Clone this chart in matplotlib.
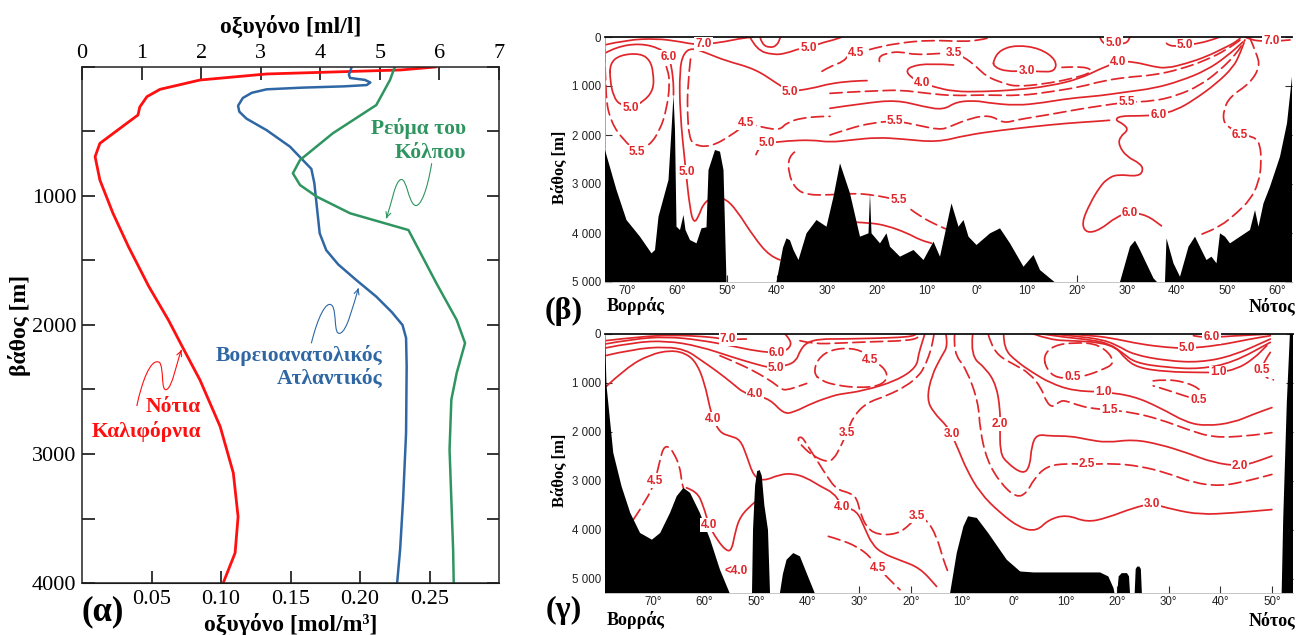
import matplotlib
matplotlib.use("Agg")
import matplotlib.pyplot as plt
from matplotlib.path import Path
from matplotlib.patches import PathPatch
from matplotlib import font_manager

# ---------------- panel (α): oxygen profiles (x in ml/l, depth in m) ----------------
cal_o2 = [5.93, 5.35, 3.10, 1.98, 1.31, 1.09, 0.97, 0.94, 0.75, 0.30, 0.22, 0.30, 0.52, 0.78, 1.12,
          1.45, 1.72, 1.98, 2.32, 2.54, 2.62, 2.57, 2.37]
cal_depth = [0, 23, 54, 101, 173, 230, 310, 372, 437, 592, 695, 876, 1134, 1393, 1700,
             1961, 2200, 2426, 2788, 3147, 3486, 3767, 4000]

nea_o2 = [4.52, 4.48, 4.50, 4.75, 4.84, 4.78, 4.40, 3.70, 3.10, 2.85, 2.70, 2.62, 2.64, 2.76, 3.10,
          3.49, 3.85, 3.90, 3.93, 3.99, 4.10, 4.30, 4.60, 4.94, 5.20, 5.38, 5.44, 5.45, 5.44, 5.39,
          5.34, 5.29]
nea_depth = [10, 60, 85, 100, 120, 140, 150, 160, 173, 200, 240, 300, 346, 400, 490,
             617, 790, 900, 1030, 1289, 1420, 1530, 1650, 1780, 1900, 2000, 2100, 2320, 2837, 3354,
             3742, 4000]

gs_o2 = [5.25, 5.17, 4.94, 4.21, 3.66, 3.54, 3.66, 3.94, 4.50, 5.48, 5.95, 6.29, 6.43, 6.29, 6.20,
         6.17, 6.20, 6.23, 6.24]
gs_depth = [0, 101, 295, 514, 721, 824, 915, 1005, 1134, 1264, 1677, 1961, 2140, 2372, 2579,
            2966, 3354, 3742, 4000]

mlx_ticks = [0, 1, 2, 3, 4, 5, 6, 7]
mol_ticks = [0.05, 0.10, 0.15, 0.20, 0.25]
mol_labels = ["0.05", "0.10", "0.15", "0.20", "0.25"]
depth_ticks_a = [0, 500, 1000, 1500, 2000, 2500, 3000, 3500, 4000]
depth_labels_a = ["", "", "1000", "", "2000", "", "3000", "", "4000"]

# ---------------- panel (β): section, x = latitude (N negative, S positive), depth m ----------------
b_bathy_1 = [(-74.4, 2306), (-72.1, 3122), (-70.1, 3735), (-67.4, 4075), (-65.1, 4415), (-64.4, 4347),
             (-63.7, 3667), (-61.7, 2917), (-61.1, 1898), (-60.7, 1184), (-60.4, 1898), (-60.1, 3871),
             (-59.4, 3939), (-58.7, 3633), (-58.3, 3939), (-57.4, 4143), (-56.1, 4211), (-55.1, 3905),
             (-54.1, 3884), (-53.7, 2715), (-52.4, 2306), (-51.4, 2340), (-50.7, 2715), (-50.1, 5000)]
b_bathy_2 = [(-40.1, 5000), (-38.8, 4300), (-38.1, 4109), (-37.4, 4150), (-36.7, 4347), (-35.7, 4551),
             (-34.1, 4007), (-32.1, 3735), (-30.1, 3871), (-28.7, 3259), (-27.4, 2578), (-25.4, 3190),
             (-23.4, 4075), (-21.7, 4007), (-21.4, 3190), (-21.1, 4007), (-19.4, 4211), (-18.1, 4007),
             (-17.4, 4279), (-15.4, 4483), (-12.7, 4347), (-10.7, 4551), (-8.7, 4177), (-7.4, 4483),
             (-5.1, 3395), (-3.7, 3871), (-2.7, 3735), (-1.7, 4075), (-0.1, 4245), (2.6, 4007),
             (4.6, 3905), (6.6, 4211), (9.3, 4688), (11.3, 4449), (12.6, 4756), (14.6, 4925), (15.5, 5000)]
b_bathy_3 = [(28.6, 5000), (30.6, 4279), (31.6, 4157), (32.6, 4347), (35.3, 4925), (36.0, 5000)]
b_bathy_4 = [(37.6, 5000), (37.9, 4109), (39.3, 4619), (40.6, 4892), (42.3, 4279), (43.6, 4075),
             (44.9, 4347), (45.9, 4551), (46.9, 4483), (47.9, 4619), (48.6, 4007), (49.6, 4075),
             (50.6, 4211), (54.6, 3939), (55.6, 3531), (56.3, 3871), (57.3, 3395), (58.6, 3055),
             (60.6, 2443), (62.0, 1762), (63.0, 810), (63.5, 810)]

b_70_w = [(-74.4, 160), (-70.1, 60), (-64.1, 30), (-59.4, 95), (-56.1, 160), (-51.4, 115), (-47.4, 30), (-44.7, 0)]
b_70_e = [(53.6, 0), (54.9, 60), (57.0, 85), (60.0, 82), (62.6, 60)]
b_60_w = [(-74.4, 330), (-72.1, 200), (-67.4, 130), (-63.4, 230), (-61.7, 400), (-61.1, 600), (-60.7, 940), (-60.7, 1180)]
b_50_loop = [(-73.4, 537), (-71.4, 367), (-67.4, 333), (-65.4, 469), (-64.7, 741), (-64.7, 1081), (-66.7, 1319),
             (-69.1, 1435), (-71.4, 1387), (-72.7, 1217), (-73.4, 877), (-73.4, 537)]
b_55_w = [(-74.4, 265), (-74.4, 1217), (-73.1, 1761), (-70.7, 2101), (-68.1, 2340), (-65.4, 2203), (-63.4, 1897),
          (-62.1, 1489), (-61.4, 945), (-61.9, 650), (-62.8, 450)]
b_50_u = [(-39.4, 4549), (-41.4, 4481), (-44.7, 4073), (-48.1, 3529), (-50.4, 3291), (-52.7, 3257), (-54.7, 3393),
          (-55.7, 3665), (-56.6, 3801), (-57.4, 3529), (-58.4, 2577), (-59.4, 1557), (-59.5, 673), (-58.7, 330),
          (-57.0, 220), (-54.0, 330), (-50.4, 480), (-44.4, 650), (-40.0, 950), (-37.4, 1115), (-33.0, 1050),
          (-29.4, 950), (-25.0, 900), (-22.0, 890)]
b_45_w = [(-57.3, 450), (-57.9, 1000), (-57.9, 1600), (-57.6, 2000), (-56.8, 2200), (-53.4, 2250), (-49.0, 2000),
          (-46.1, 1761), (-42.1, 1860), (-39.4, 1897), (-38.1, 1750), (-35.0, 1650), (-31.0, 1620), (-29.4, 1620)]
b_40_c = [(-4.7, 571), (-9.4, 537), (-13.4, 600), (-14.2, 720), (-12.5, 870), (-10.9, 945), (-8.7, 1013),
          (-4.7, 1115), (1.3, 1115), (7.9, 1080), (14.6, 1000), (20.6, 850), (24.6, 650), (28.3, 503),
          (31.3, 503), (35.3, 605), (37.9, 640), (41.9, 540), (45.9, 400), (49.3, 230), (51.3, 130), (52.6, 30)]
b_45_c = [(-29.4, 1150), (-25.0, 1120), (-20.0, 1100), (-15.4, 1080), (-10.0, 1150), (-4.7, 1200), (1.3, 1180),
          (8.6, 1200), (14.6, 1120), (20.6, 1020), (25.0, 900), (29.9, 820), (35.3, 780), (40.6, 660),
          (45.9, 470), (49.9, 260), (52.8, 50)]
b_50_c = [(-29.4, 1455), (-22.7, 1353), (-16.1, 1285), (-10.7, 1421), (-6.7, 1489), (-4.1, 1319), (-0.1, 1300),
          (1.9, 1340), (7.9, 1400), (13.3, 1340), (18.6, 1250), (24.6, 1200), (29.9, 1120), (35.3, 1050),
          (40.6, 900), (45.9, 680), (49.9, 400), (53.2, 100)]
b_55_c = [(-29.4, 2000), (-25.4, 1863), (-21.4, 1761), (-16.4, 1707), (-12.1, 1795), (-7.4, 1897), (-5.4, 1829),
          (-1.4, 1659), (2.6, 1591), (5.3, 1761), (7.9, 1693), (11.9, 1625), (15.9, 1557), (20.0, 1480),
          (25.0, 1400), (29.9, 1330), (35.3, 1310), (39.9, 1200), (44.6, 990), (48.6, 680), (51.9, 340), (53.6, 60)]
b_50_low = [(-44.2, 2400), (-43.6, 2250), (-42.1, 2169), (-38.0, 2120), (-33.0, 2100), (-29.4, 2150), (-25.0, 2100),
            (-20.0, 2050), (-15.0, 2080), (-8.0, 2150), (-2.0, 2000), (5.0, 1900), (12.0, 1820), (18.0, 1760),
            (24.0, 1720), (26.5, 1700)]
b_60_e = [(53.4, 120), (52.6, 340), (51.3, 610), (47.9, 950), (43.3, 1290), (39.9, 1489), (36.3, 1591),
          (32.6, 1611), (28.6, 1611), (27.6, 1693), (29.3, 1775), (30.3, 1897), (28.6, 2033), (28.3, 2203),
          (29.9, 2441), (32.6, 2577), (33.3, 2713), (32.3, 2849), (28.0, 2800), (26.0, 2900), (24.6, 3053),
          (22.6, 3393), (20.9, 3801), (21.9, 4005), (24.6, 3937), (27.9, 3665), (30.6, 3583), (33.9, 3631),
          (36.9, 3855)]
b_65_e = [(54.5, 0), (55.9, 333), (56.6, 605), (54.6, 945), (50.6, 1217), (49.3, 1489), (49.3, 1761),
          (51.3, 1897), (52.6, 2000), (55.3, 2033), (56.6, 2169), (56.9, 2577), (56.3, 2985), (54.6, 3325),
          (51.9, 3597), (48.6, 3869), (44.6, 4039)]
b_55_deep = [(-36.5, 2350), (-37.7, 2441), (-37.7, 2781), (-36.4, 3087), (-34.1, 3223), (-29.4, 3223),
             (-24.7, 3189), (-20.7, 3223), (-15.7, 3325), (-11.4, 3665), (-7.4, 3869), (-5.7, 3937)]
b_deep_s = [(-24.5, 3780), (-21.5, 3790), (-18.0, 3850), (-14.0, 4000), (-11.4, 4141), (-9.1, 4209)]
b_50_top = [(-45.4, 0), (-44.1, 265), (-40.7, 367), (-38.1, 333), (-35.4, 231), (-33.7, 231), (-31.4, 129),
            (-28.7, 61), (-27.0, 0)]
b_inner_top = [(-43.4, 0), (-43.0, 150), (-41.5, 220), (-40.0, 180), (-39.3, 0)]
b_45_top = [(-31.0, 700), (-29.4, 600), (-26.7, 503), (-25.7, 367), (-24.1, 333), (-20.7, 231), (-16.1, 129),
            (-9.4, 61), (-2.7, 95), (0.6, 61), (3.0, 0)]
b_35_top = [(-19.5, 500), (-19.8, 400), (-17.5, 320), (-15.4, 300), (-12.1, 367), (-7.4, 333), (-4.7, 333),
            (-2.7, 401), (-0.1, 605), (1.9, 809), (5.3, 945), (7.9, 1013), (13.3, 960), (18.6, 860),
            (22.6, 741), (22.9, 659), (20.9, 605), (17.0, 620)]
b_30_loop = [(3.3, 469), (4.6, 265), (7.9, 163), (12.6, 231), (15.9, 469), (15.6, 707), (12.6, 707), (9.9, 687),
             (5.9, 707), (3.3, 605), (3.3, 469)]
b_50_ne = [(24.6, 0), (25.0, 150), (27.3, 130), (29.9, 140), (30.6, 0)]
b_50_e = [(37.9, 129), (38.6, 197), (41.6, 163), (44.6, 129), (47.9, 27), (48.5, 0)]

# label positions (lat, depth, text)
b_labels = [(-54.7, 140, "7.0"), (58.9, 82, "7.0"), (-61.7, 400, "6.0"), (-69.3, 1440, "5.0"),
            (-68.1, 2340, "5.5"), (-58.1, 2747, "5.0"), (-37.4, 1115, "5.0"), (-46.1, 1761, "4.5"),
            (-42.1, 2169, "5.0"), (-10.9, 945, "4.0"), (28.3, 503, "4.0"), (-16.4, 1707, "5.5"),
            (29.9, 1330, "5.5"), (36.3, 1591, "6.0"), (30.6, 3583, "6.0"), (52.6, 2000, "6.5"),
            (-15.7, 3325, "5.5"), (-33.7, 231, "5.0"), (-24.1, 333, "4.5"), (-4.7, 333, "3.5"),
            (9.9, 690, "3.0"), (27.3, 125, "5.0"), (41.6, 163, "5.0")]

b_xticks = [-70, -60, -50, -40, -30, -20, -10, 0, 10, 20, 30, 40, 50, 60]
b_yticks = [0, 1000, 2000, 3000, 4000, 5000]
b_ylabels = ["0", "1 000", "2 000", "3 000", "4 000", "5 000"]

# ---------------- panel (γ) ----------------
g_bathy_1 = [(-79.3, 35), (-79.0, 1059), (-77.7, 2425), (-76.1, 3108), (-74.4, 3655), (-72.5, 4064), (-70.2, 4201),
             (-68.6, 4064), (-66.7, 3655), (-65.4, 3313), (-64.1, 3142), (-62.8, 3245), (-60.9, 3655),
             (-58.9, 4201), (-57.0, 4816), (-55.1, 5300)]
g_bathy_2 = [(-50.8, 5300), (-50.6, 4000), (-50.2, 3100), (-49.8, 2800), (-49.3, 2780), (-48.9, 2900),
             (-48.4, 3500), (-47.7, 4000), (-47.3, 5300)]
g_bathy_3 = [(-45.4, 5300), (-44.8, 4900), (-44.1, 4611), (-42.8, 4474), (-41.5, 4542), (-40.2, 4884), (-38.6, 5300)]
g_bathy_4 = [(-12.4, 5300), (-11.1, 4474), (-9.8, 3928), (-8.9, 3723), (-7.2, 3757), (-5.0, 4064), (-1.4, 4611),
             (1.2, 4850), (3.8, 4870), (16.7, 4870), (18.3, 4952), (19.3, 5191), (19.5, 5300)]
g_bathy_5 = [(20.0, 5300), (20.3, 4950), (20.9, 4884), (21.9, 4884), (22.3, 4950), (22.5, 5300)]
g_bathy_6 = [(23.4, 5300), (23.6, 4800), (23.9, 4750), (24.3, 4750), (24.6, 4800), (24.8, 5300)]
g_bathy_7 = [(51.9, 5300), (52.2, 3791), (52.9, 1400), (53.5, 0), (54.5, 0)]

g_70 = [(-79.3, 137), (-72.5, 55), (-66.1, 20), (-59.6, 55), (-57.1, 90), (-55.7, 110), (-53.1, 105), (-51.9, 102)]
g_60 = [(-79.3, 205), (-73.8, 102), (-67.4, 55), (-61.0, 120), (-54.4, 250), (-49.9, 350), (-46.0, 385),
        (-44.1, 341), (-43.1, 205), (-43.8, 68), (-44.4, 0)]
g_50 = [(-79.3, 287), (-73.8, 171), (-67.4, 137), (-61.0, 250), (-54.4, 480), (-49.9, 620), (-47.3, 690),
        (-44.1, 649), (-42.2, 546), (-41.5, 341), (-40.2, 171), (-37.6, 102), (-33.8, 102), (-28.0, 90),
        (-22.0, 70), (-19.5, 40), (-19.0, 0)]
g_40a = [(-79.3, 444), (-73.8, 307), (-67.4, 259), (-63.5, 330), (-61.0, 512), (-57.7, 751), (-54.4, 1024),
         (-52.5, 1195), (-50.6, 1243), (-47.3, 1332), (-44.7, 1625), (-42.8, 1605), (-38.9, 1400), (-35.1, 1264),
         (-33.8, 1229), (-29.2, 1161), (-22.8, 956), (-18.9, 683), (-18.5, 410), (-17.8, 171), (-17.3, 0)]
g_40b = [(-79.3, 1093), (-75.1, 683), (-70.6, 420), (-66.5, 330), (-63.5, 400), (-61.5, 600), (-60.0, 1000),
         (-58.9, 1537), (-58.3, 1742), (-57.0, 2015), (-55.1, 2084), (-53.1, 2152), (-51.8, 2493), (-50.5, 2903),
         (-48.6, 3006), (-45.4, 2869), (-42.8, 2849), (-40.2, 2937), (-37.6, 3108), (-35.0, 3245), (-33.7, 3450),
         (-33.4, 3532), (-30.5, 3600), (-29.0, 3950), (-27.5, 4300), (-25.5, 4480), (-22.1, 4620), (-18.2, 4780),
         (-15.0, 5157)]
g_45_loop = [(-38.9, 800), (-38.0, 500), (-35.5, 320), (-31.5, 280), (-28.5, 400), (-27.9, 526), (-25.5, 650),
             (-24.3, 880), (-26.0, 1060), (-30.0, 1100), (-34.3, 1050), (-37.3, 960), (-38.9, 800)]
g_45_band = [(-57.0, 444), (-53.1, 615), (-49.3, 820), (-46.7, 990), (-45.1, 1127), (-44.1, 1147), (-41.5, 1059),
             (-40.2, 1010)]
g_45_top = [(-41.5, 137), (-38.9, 205), (-33.7, 185), (-27.3, 157), (-20.8, 137), (-18.5, 80), (-18.2, 0)]
g_35 = [(-15.5, 0), (-15.8, 200), (-16.5, 450), (-17.5, 700), (-18.5, 854), (-20.8, 1059), (-24.7, 1264),
        (-28.5, 1400), (-31.1, 1674), (-32.4, 2015), (-33.7, 2323), (-35.0, 2562), (-36.3, 2616), (-38.9, 2493),
        (-40.8, 2323), (-42.1, 2152), (-41.2, 2084), (-40.2, 2254), (-38.3, 2562), (-36.3, 2903), (-34.4, 3176),
        (-31.8, 3245), (-30.5, 3347), (-29.8, 3650), (-28.6, 3950), (-26.5, 4100), (-22.7, 4090), (-20.2, 3900),
        (-18.9, 3723), (-16.9, 3791), (-15.0, 4132), (-13.7, 4610), (-12.7, 4884)]
g_45_deepL = [(-73.8, 3791), (-71.2, 3381), (-69.6, 3006), (-68.6, 2562), (-68.0, 2323), (-67.0, 2289),
              (-66.0, 2425), (-64.8, 2698), (-64.4, 3040), (-64.1, 3142)]
g_40_deepL = [(-63.5, 3142), (-61.5, 3211), (-60.2, 3518), (-59.2, 3893), (-57.6, 4201), (-55.7, 4440),
              (-54.7, 4406), (-54.1, 4064), (-53.1, 3723), (-50.5, 3450), (-49.9, 3416)]
g_45_deepR = [(-36.0, 4133), (-33.7, 4201), (-30.5, 4338), (-27.9, 4543), (-26.3, 4781), (-24.1, 5020), (-22.1, 5225)]
g_30 = [(-13.2, 0), (-12.8, 239), (-14.0, 444), (-16.0, 854), (-16.9, 1332), (-15.6, 1605), (-13.0, 1879),
        (-12.1, 2049), (-10.8, 2357), (-9.2, 2767), (-6.6, 3245), (-2.7, 3655), (1.2, 3962), (4.4, 4030),
        (6.7, 3791), (10.2, 3689), (14.1, 3846), (18.0, 3757), (23.1, 3552), (26.7, 3463), (30.9, 3586),
        (36.1, 3689), (42.5, 3655), (50.0, 3586)]
g_25 = [(-11.5, 0), (-11.8, 376), (-9.2, 717), (-6.9, 1400), (-6.6, 1947), (-5.3, 2562), (-2.7, 3040),
        (0.5, 3347), (2.5, 3245), (3.8, 2971), (6.3, 2698), (10.2, 2644), (14.1, 2664), (19.3, 2644),
        (24.4, 2698), (29.6, 2835), (34.8, 3040), (40.0, 3108), (45.1, 3006), (50.0, 2869)]
g_20 = [(-8.0, 0), (-8.5, 444), (-5.3, 717), (-3.4, 1059), (-2.7, 1537), (-2.7, 1844), (-2.7, 2425),
        (-1.4, 2630), (1.8, 2869), (3.1, 2698), (3.4, 2289), (4.4, 2049), (7.0, 2084), (10.9, 2084),
        (14.1, 2152), (18.0, 2220), (23.1, 2152), (28.3, 2254), (33.5, 2425), (38.7, 2630), (43.8, 2698),
        (46.4, 2630), (50.0, 2493)]
g_15 = [(-5.0, 0), (-4.6, 171), (-3.0, 450), (0.0, 620), (3.0, 800), (5.3, 1100), (6.3, 1400), (7.6, 1503),
        (8.9, 1366), (10.2, 1366), (12.8, 1469), (15.4, 1523), (18.5, 1551), (23.1, 1605), (28.3, 1742),
        (33.5, 1947), (38.7, 2118), (45.1, 2084), (50.0, 2015)]
g_10 = [(-2.0, 0), (-2.0, 300), (0.5, 560), (3.5, 780), (7.0, 1000), (11.5, 1161), (17.3, 1182), (23.1, 1264),
        (28.3, 1503), (33.5, 1810), (37.4, 1879), (42.5, 1810), (46.4, 1639), (50.0, 1503)]
g_05_loop = [(5.7, 444), (7.6, 239), (11.5, 171), (16.7, 205), (19.9, 581), (16.7, 752), (12.8, 888),
             (8.3, 909), (6.3, 717), (5.7, 444)]
g_05_small = [(27.0, 957), (29.6, 922), (33.5, 991), (36.1, 1127), (36.7, 1250), (35.8, 1346), (33.5, 1278),
              (29.6, 1141), (27.0, 1059)]
g_05_right = [(49.7, 376), (48.5, 560), (48.0, 731), (48.7, 888), (50.3, 936)]
g_60e = [(34.8, 35), (36.0, 60), (38.3, 69), (42.5, 40), (49.7, 0)]
g_50e = [(10.0, 0), (15.4, 30), (19.9, 103), (24.4, 205), (29.6, 274), (33.5, 294), (39.3, 239), (45.8, 103), (49.7, 35)]
g_b1 = [(7.5, 0), (12.0, 45), (17.0, 110), (20.0, 230), (23.1, 420), (29.6, 547), (36.1, 581), (42.5, 444), (49.7, 103)]
g_b2 = [(5.5, 0), (10.0, 70), (15.0, 120), (18.5, 200), (21.0, 380), (23.5, 590), (29.6, 683), (36.1, 717),
        (42.5, 581), (49.7, 171)]
g_10e = [(3.8, 0), (7.0, 120), (11.5, 140), (16.7, 170), (20.0, 290), (21.5, 500), (24.0, 690), (29.6, 772),
         (36.1, 786), (39.6, 786), (43.2, 717), (46.4, 512), (49.0, 239)]

g_labels = [(-55.5, 110, "7.0"), (-46.0, 385, "6.0"), (-46.2, 690, "5.0"), (-50.2, 1225, "4.0"),
            (-58.3, 1742, "4.0"), (-33.4, 3532, "4.0"), (-27.9, 526, "4.5"), (-32.4, 2015, "3.5"),
            (-18.9, 3723, "3.5"), (-69.6, 3006, "4.5"), (-59.2, 3893, "4.0"), (-53.8, 4850, "<4.0"),
            (-26.3, 4781, "4.5"), (-12.1, 2049, "3.0"), (26.7, 3463, "3.0"), (14.1, 2664, "2.5"),
            (-2.7, 1844, "2.0"), (43.8, 2698, "2.0"), (18.5, 1551, "1.5"), (17.3, 1182, "1.0"),
            (39.6, 786, "1.0"), (11.4, 888, "0.5"), (35.8, 1346, "0.5"), (48.0, 731, "0.5"),
            (38.3, 62, "6.0"), (33.5, 294, "5.0")]

g_xticks = [-70, -60, -50, -40, -30, -20, -10, 0, 10, 20, 30, 40, 50]
g_yticks = [0, 1000, 2000, 3000, 4000, 5000]
g_ylabels = ["0", "1 000", "2 000", "3 000", "4 000", "5 000"]

# ---------------------------------------------------------------------------
W, H = 1296, 635
RED_A = "#ff1010"
BLUE = "#2f67a4"
GREEN = "#2f9560"
ISO = "#e0262b"
SERIF = ["Liberation Serif", "DejaVu Serif"]
_names = {f.name for f in font_manager.fontManager.ttflist}
NARROW = ["Liberation Sans Narrow"] if "Liberation Sans Narrow" in _names else ["Liberation Sans"]
SANS = ["Liberation Sans", "DejaVu Sans"]
TICK_FS = 9.5 if NARROW[0].endswith("Narrow") else 8.3

fig = plt.figure(figsize=(W / 100, H / 100), dpi=100)


def box(x0, y0, x1, y1):
    return [x0 / W, 1 - y1 / H, (x1 - x0) / W, (y1 - y0) / H]


# ============================ panel α ============================
axa = fig.add_axes(box(82, 67, 499, 583))
axa.plot(cal_o2, cal_depth, color=RED_A, lw=2.0, solid_joinstyle="round")
axa.plot(nea_o2, nea_depth, color=BLUE, lw=1.8, solid_joinstyle="round")
axa.plot(gs_o2, gs_depth, color=GREEN, lw=1.8, solid_joinstyle="round")
axa.set_xlim(0, 7)
axa.set_ylim(4000, 0)
axa.xaxis.tick_top()
axa.set_xticks(mlx_ticks)
axa.set_xticklabels([str(v) for v in mlx_ticks], family=SERIF, fontsize=16)
axa.set_yticks(depth_ticks_a)
axa.set_yticklabels(depth_labels_a, family=SERIF, fontsize=16)
axa.tick_params(axis="x", direction="in", length=9, width=1.1, pad=3)
axa.tick_params(axis="y", direction="in", length=9, width=1.1, left=True, right=True, pad=4)
for s in axa.spines.values():
    s.set_linewidth(1.1)
    s.set_color("#222222")
sec = axa.secondary_xaxis("bottom", functions=(lambda v: v * 0.3 / 7, lambda m: m * 7 / 0.3))
sec.set_xticks(mol_ticks)
sec.set_xticklabels(mol_labels, family=SERIF, fontsize=16)
sec.tick_params(direction="in", length=9, width=1.1, pad=5)

fig.text(291 / W, 1 - 27 / H, "οξυγόνο [ml/l]", ha="center", va="center", fontsize=17,
         fontweight="bold", family=SERIF)
fig.text(291 / W, 1 - 625 / H, "οξυγόνο [mol/m³]", ha="center", va="center", fontsize=17,
         fontweight="bold", family=SERIF)
fig.text(20 / W, 1 - 325 / H, "βάθος [m]", ha="center", va="center", rotation=90, fontsize=17,
         fontweight="bold", family=SERIF)
fig.text(103 / W, 1 - 612 / H, "(α)", ha="center", va="center", fontsize=25, fontweight="bold", family=SERIF)

axa.text(6.45, 475, "Ρεύμα του", color=GREEN, ha="right", va="center", fontsize=15.5, fontweight="bold", family=SERIF)
axa.text(6.45, 669, "Κόλπου", color=GREEN, ha="right", va="center", fontsize=15.5, fontweight="bold", family=SERIF)
axa.text(5.04, 2233, "Βορειοανατολικός", color=BLUE, ha="right", va="center", fontsize=15.5, fontweight="bold", family=SERIF)
axa.text(5.04, 2419, "Ατλαντικός", color=BLUE, ha="right", va="center", fontsize=15.5, fontweight="bold", family=SERIF)
axa.text(2.0, 2638, "Νότια", color=RED_A, ha="right", va="center", fontsize=15.5, fontweight="bold", family=SERIF)
axa.text(2.0, 2827, "Καλιφόρνια", color=RED_A, ha="right", va="center", fontsize=15.5, fontweight="bold", family=SERIF)


def squiggle(ax, verts, color):
    codes = [Path.MOVETO] + [Path.CURVE4] * (len(verts) - 1)
    ax.add_patch(PathPatch(Path(verts, codes), fc="none", ec=color, lw=0.8))
    (x1, y1), (x0, y0) = verts[-1], verts[-2]
    ax.annotate("", xy=(x1, y1), xytext=(x1 - (x1 - x0) * 0.25, y1 - (y1 - y0) * 0.25),
                arrowprops=dict(arrowstyle="->", color=color, lw=0.8, mutation_scale=9))


squiggle(axa, [(5.87, 746), (5.80, 950), (5.68, 1100), (5.58, 1070), (5.48, 1040), (5.45, 870), (5.36, 872),
               (5.26, 875), (5.20, 1050), (5.11, 1173)], GREEN)
squiggle(axa, [(3.85, 2142), (3.95, 1950), (4.10, 1800), (4.20, 1850), (4.28, 1900), (4.22, 2080), (4.33, 2064),
               (4.45, 2050), (4.55, 1850), (4.64, 1715)], BLUE)
squiggle(axa, [(0.92, 2628), (1.00, 2450), (1.15, 2250), (1.30, 2290), (1.38, 2330), (1.32, 2520), (1.42, 2500),
               (1.52, 2480), (1.58, 2300), (1.67, 2194)], RED_A)


# ============================ sections ============================
def _mid(a, b):
    return ((a[0] + b[0]) / 2, (a[1] + b[1]) / 2)


def draw_line(ax, pts, dashed):
    """Hand-drawn isoline: read points used as quadratic Bezier controls (smooth rendering)."""
    closed = pts[0] == pts[-1]
    if closed:
        q = pts[:-1]
        n = len(q)
        mids = [_mid(q[i], q[(i + 1) % n]) for i in range(n)]
        verts = [mids[-1]]
        codes = [Path.MOVETO]
        for i in range(n):
            verts += [q[i], mids[i]]
            codes += [Path.CURVE3, Path.CURVE3]
    else:
        verts = [pts[0]]
        codes = [Path.MOVETO]
        for i in range(1, len(pts) - 1):
            verts += [pts[i], _mid(pts[i], pts[i + 1])]
            codes += [Path.CURVE3, Path.CURVE3]
        verts.append(pts[-1])
        codes.append(Path.LINETO)
    ls = (0, (7, 3.2)) if dashed else "-"
    ax.add_patch(PathPatch(Path(verts, codes), fill=False, ec=ISO, lw=1.25, ls=ls, capstyle="round",
                           joinstyle="round", zorder=2))


def draw_bathy(ax, pts, bottom):
    xs = [pts[0][0]] + [p for p, d in pts] + [pts[-1][0]]
    ys = [bottom] + [d for p, d in pts] + [bottom]
    ax.fill(xs, ys, color="black", lw=0, zorder=4)


def draw_labels(ax, labels):
    for p, d, t in labels:
        ax.text(p, d, t, color=ISO, ha="center", va="center", fontsize=8.5, fontweight="bold", family=SANS,
                zorder=6, bbox=dict(boxstyle="square,pad=0.08", fc="white", ec="none"))


def style_section(ax, xt, yt, yl, xlim, ylim):
    ax.set_xlim(*xlim)
    ax.set_ylim(*ylim)
    ax.set_xticks(xt)
    ax.set_xticklabels([f"{abs(v)}°" for v in xt], family=NARROW, fontsize=TICK_FS, color="#222222")
    ax.set_yticks(yt)
    ax.set_yticklabels(yl, family=NARROW, fontsize=TICK_FS, color="#222222")
    ax.tick_params(axis="x", direction="in", length=5, width=0.8, pad=2, color="#333333")
    ax.tick_params(axis="y", direction="in", length=5, width=0.8, pad=3, color="#333333", left=True, right=True)
    ax.spines["top"].set_linewidth(1.3)
    ax.spines["top"].set_color("#111111")
    ax.spines["right"].set_visible(False)
    ax.spines["left"].set_linewidth(0.6)
    ax.spines["left"].set_color("#999999")
    ax.spines["bottom"].set_linewidth(0.6)
    ax.spines["bottom"].set_color("#bbbbbb")


# ---- β
axb = fig.add_axes(box(605, 37, 1292, 282))
for pts in [b_70_w, b_70_e, b_60_w, b_50_loop, b_50_u, b_40_c, b_50_c, b_50_low, b_60_e, b_deep_s,
            b_50_top, b_inner_top, b_30_loop, b_50_ne, b_50_e]:
    draw_line(axb, pts, False)
for pts in [b_55_w, b_45_w, b_45_c, b_55_c, b_65_e, b_55_deep, b_45_top, b_35_top]:
    draw_line(axb, pts, True)
for pts in [b_bathy_1, b_bathy_2, b_bathy_3, b_bathy_4]:
    draw_bathy(axb, pts, 5200)
draw_labels(axb, b_labels)
style_section(axb, b_xticks, b_yticks, b_ylabels, (-74.4, 63.0), (5000, 0))

# ---- γ
axg = fig.add_axes(box(605, 334, 1293, 593))
for pts in [g_70, g_60, g_50, g_40a, g_40b, g_40_deepL, g_30, g_20, g_10, g_60e, g_50e, g_b1, g_b2, g_10e]:
    draw_line(axg, pts, False)
for pts in [g_45_loop, g_45_band, g_45_top, g_35, g_45_deepL, g_45_deepR, g_25, g_15, g_05_loop,
            g_05_small, g_05_right]:
    draw_line(axg, pts, True)
for pts in [g_bathy_1, g_bathy_2, g_bathy_3, g_bathy_4, g_bathy_5, g_bathy_6, g_bathy_7]:
    draw_bathy(axg, pts, 5400)
draw_labels(axg, g_labels)
style_section(axg, g_xticks, g_yticks, g_ylabels, (-79.3, 54.1), (5290, 0))

# section texts
for yb, yl, yn in [(306, 167, 306), (620, 470, 620)]:
    fig.text(636 / W, 1 - yb / H, "Βορράς", ha="center", va="center", fontsize=13, fontweight="bold", family=SERIF)
    fig.text(1295 / W, 1 - yn / H, "Νότος", ha="right", va="center", fontsize=13, fontweight="bold", family=SERIF)
    fig.text(560 / W, 1 - yl / H, "Βάθος [m]", ha="center", va="center", rotation=90, fontsize=12,
             fontweight="bold", family=SERIF)
fig.text(564 / W, 1 - 311 / H, "(β)", ha="center", va="center", fontsize=23, fontweight="bold", family=SERIF)
fig.text(564 / W, 1 - 610 / H, "(γ)", ha="center", va="center", fontsize=23, fontweight="bold", family=SERIF)

fig.savefig("out.png", dpi=100)
